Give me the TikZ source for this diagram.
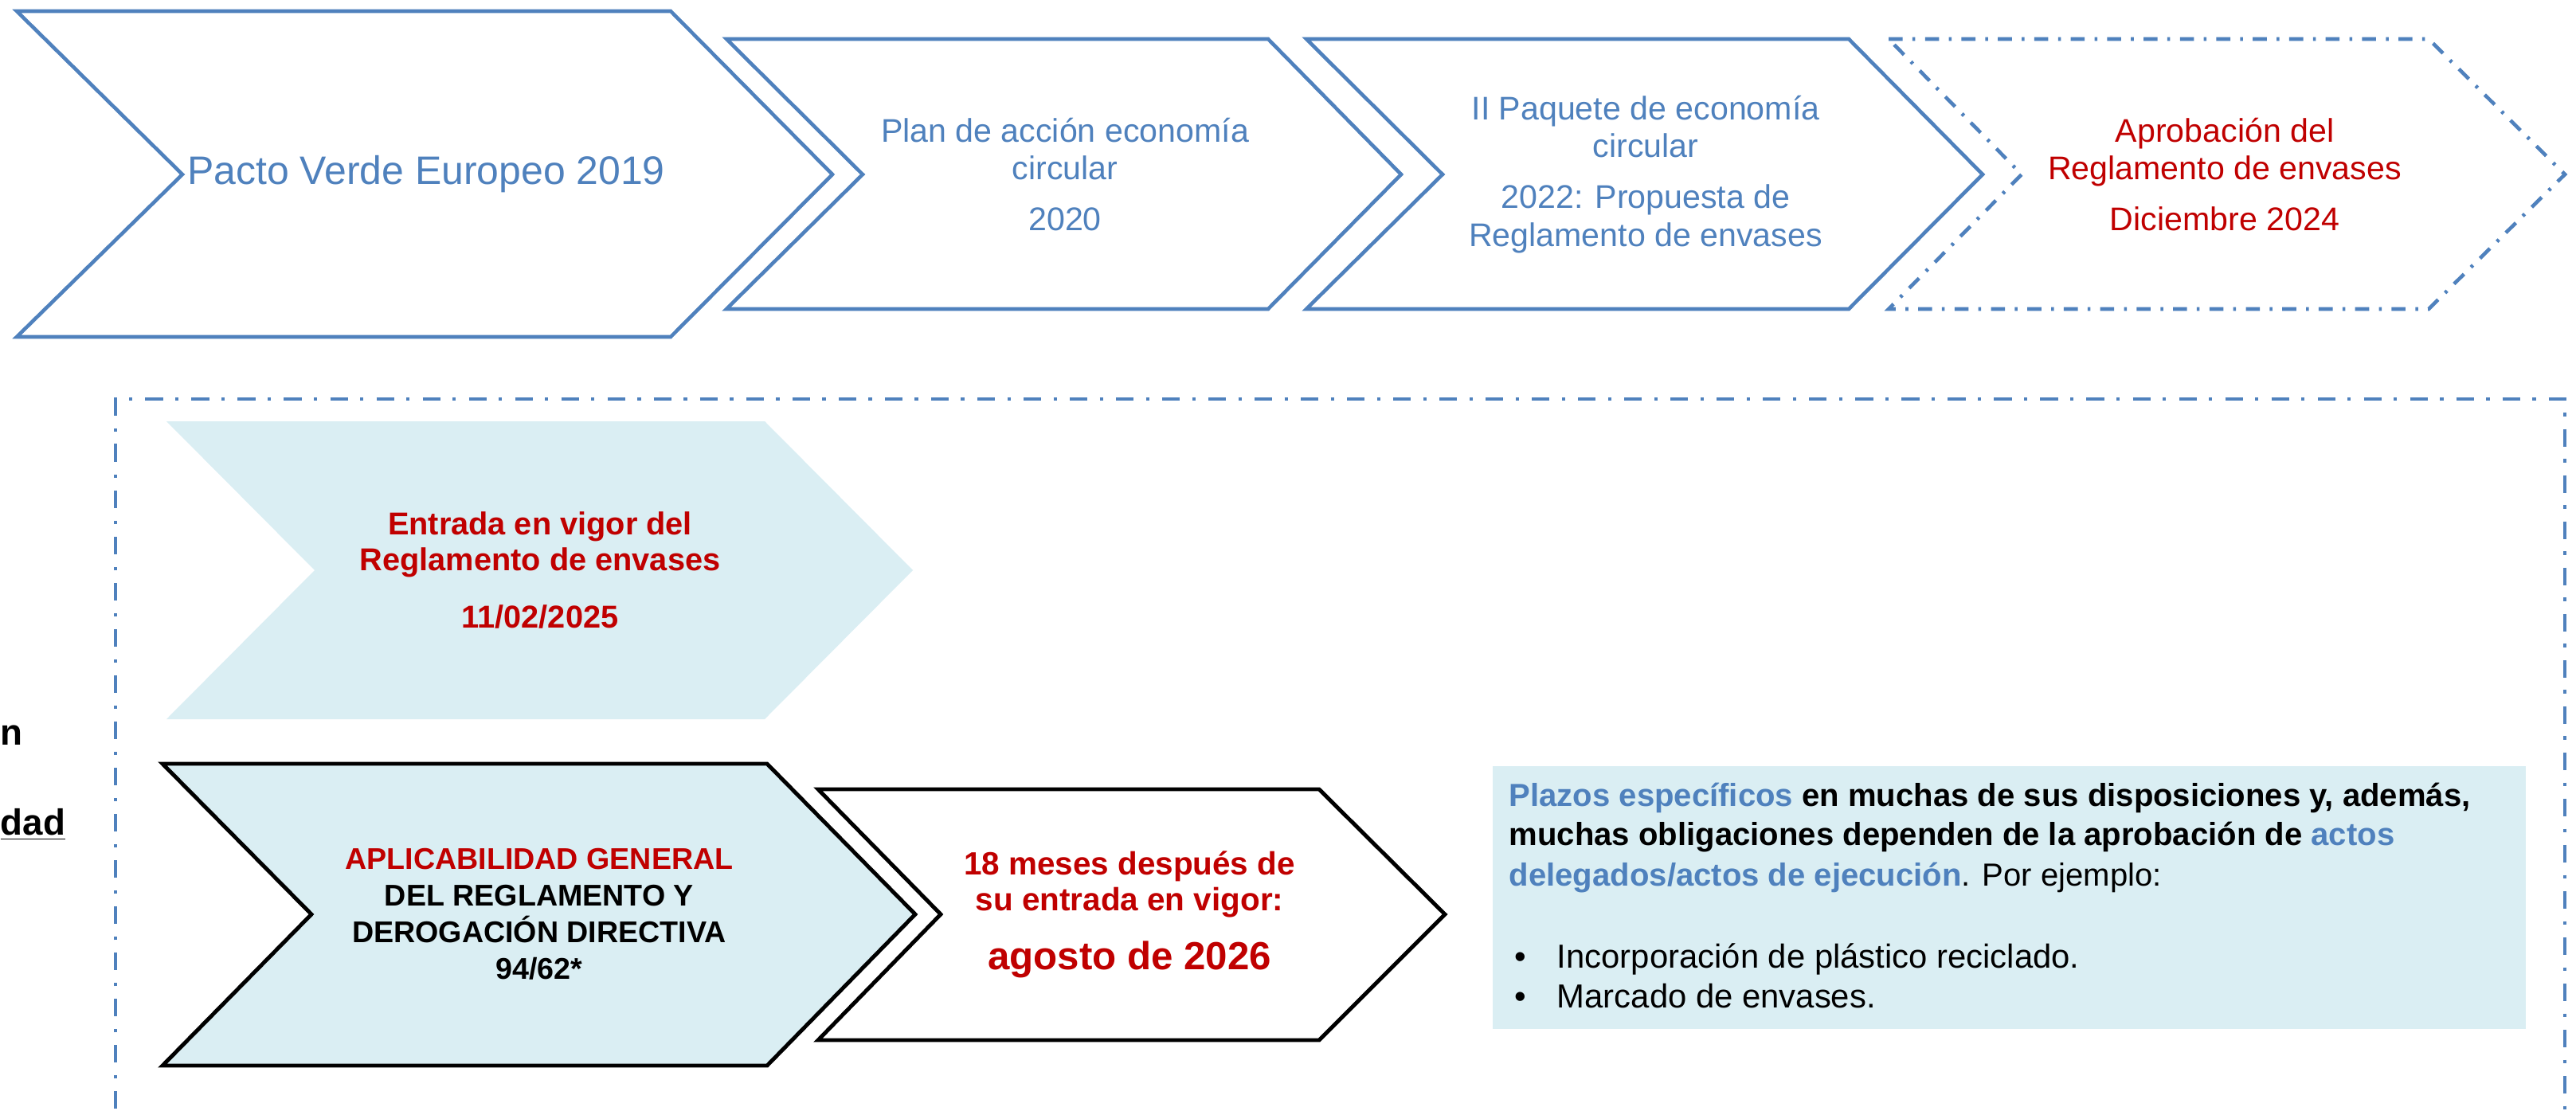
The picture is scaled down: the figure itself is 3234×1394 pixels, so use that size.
\documentclass[tikz,border=0pt]{standalone}
\usepackage{fontspec}
\setmainfont{Liberation Sans}
\definecolor{azul}{HTML}{4F81BD}
\definecolor{rojo}{HTML}{C00000}
\definecolor{celeste}{HTML}{DAEEF3}
\begin{document}
\begin{tikzpicture}[x=0.01cm,y=-0.01cm,line join=miter,
    flecha/.style={draw=azul, line width=1.3pt},
    negra/.style={draw=black, line width=1.4pt},
    rayapunto/.style={dash pattern=on 5pt off 3.5pt on 1pt off 3.5pt},
    arriba/.style={align=center, inner sep=0pt, font=\fontsize{11.7}{13.4}\selectfont},
    abajo/.style={align=center, inner sep=0pt, font=\bfseries\fontsize{11.3}{12.8}\selectfont},
    caja/.style={anchor=base west, inner sep=0pt, font=\bfseries\fontsize{11.4}{14}\selectfont},
    lista/.style={anchor=base west, inner sep=0pt, font=\fontsize{11.9}{14}\selectfont}]
\clip (0,0) rectangle (3234,1394);
\fill[white] (0,0) rectangle (3234,1394);
% fila de arriba
\draw[flecha] (21,14)--(842,14)--(1045,219)--(842,423)--(21,423)--(229,219)--cycle;
\node[text=azul, inner sep=0pt, font=\fontsize{14.2}{17}\selectfont] (pacto) at (535,219) {Pacto Verde Europeo 2019};
\draw[flecha] (912,49)--(1592,49)--(1759,219)--(1592,388)--(912,388)--(1083,219)--cycle;
\node[arriba, text=azul] (plan) at (1337,219) {Plan de acción economía\\circular\\[4.8pt]2020};
\draw[flecha] (1640,49)--(2321,49)--(2489,219)--(2321,388)--(1640,388)--(1811,219)--cycle;
\node[arriba, text=azul] (paquete) at (2066,219) {II Paquete de economía\\circular\\[4.8pt]2022: Propuesta de\\Reglamento de envases};
\draw[flecha, rayapunto] (2371,49)--(3049,49)--(3220,219)--(3049,388)--(2371,388)--(2538,219)--cycle;
\node[arriba, text=rojo] (aprobacion) at (2793,219) {Aprobación del\\Reglamento de envases\\[4.8pt]Diciembre 2024};
% recuadro de abajo
\draw[azul, line width=1.2pt, dash pattern=on 6.3pt off 4.4pt on 1.2pt off 4.6pt] (145,1450)--(145,501)--(3220,501)--(3220,1450);
\node[anchor=base west, inner sep=0pt, font=\bfseries\fontsize{13}{15}\selectfont] (trozo1) at (0,935) {n};
\node[anchor=base west, inner sep=0pt, font=\bfseries\fontsize{13}{15}\selectfont] (trozo2) at (0,1048) {\underline{dad}};
\fill[celeste] (209,529)--(960,529)--(1146,716)--(960,903)--(209,903)--(395,716)--cycle;
\node[abajo, text=rojo] (entrada) at (678,716) {Entrada en vigor del\\Reglamento de envases\\[7.4pt]11/02/2025};
\draw[negra, fill=celeste] (204,959)--(963,959)--(1149,1148)--(963,1338)--(204,1338)--(391,1148)--cycle;
\node[abajo, font=\bfseries\fontsize{10.7}{13.1}\selectfont] (aplicabilidad) at (677,1148) {\textcolor{rojo}{APLICABILIDAD GENERAL}\\DEL REGLAMENTO Y\\DEROGACIÓN DIRECTIVA\\94/62*};
\draw[negra, fill=white] (1027,991)--(1656,991)--(1814,1148)--(1656,1306)--(1027,1306)--(1181,1148)--cycle;
\node[abajo, text=rojo, font=\bfseries\fontsize{11.5}{12.8}\selectfont] (meses) at (1418,1148) {18 meses después de\\su entrada en vigor:\\[8.2pt]{\fontsize{14}{17}\selectfont agosto de 2026}};
\fill[celeste] (1874,962) rectangle (3171,1292);
\node[caja] (plazos) at (1894,1012) {\textcolor{azul}{Plazos específicos} en muchas de sus disposiciones y, además,};
\node[caja] (obligaciones) at (1894,1061) {muchas obligaciones dependen de la aprobación de \textcolor{azul}{actos}};
\node[caja] (delegados) at (1894,1112) {\textcolor{azul}{delegados/actos de ejecución}\mdseries. Por ejemplo:};
\node[lista] (plastico) at (1901,1215) {\makebox[0.53cm][l]{•}Incorporación de plástico reciclado.};
\node[lista] (marcado) at (1901,1265) {\makebox[0.53cm][l]{•}Marcado de envases.};
\end{tikzpicture}
\end{document}
